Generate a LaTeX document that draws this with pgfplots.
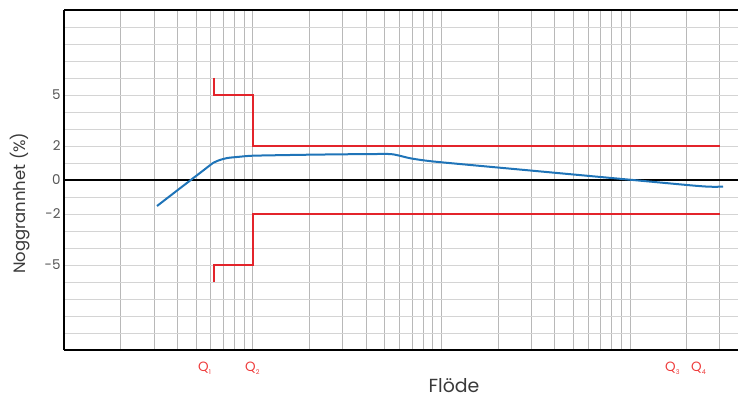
\documentclass[border=0pt]{standalone}
\usepackage{pgfplots}
\pgfplotsset{compat=1.18}
\usepackage{fontspec}
\setmainfont{Poppins}
\definecolor{redline}{HTML}{E3242B}
\definecolor{blueline}{HTML}{1F74B8}
\definecolor{labelgray}{HTML}{3A3A3A}
\definecolor{tickgray}{HTML}{555555}
\definecolor{qred}{HTML}{EE3B3B}
\begin{document}
\begin{tikzpicture}
\begin{axis}[
  scale only axis,
  width=673.9bp, height=340bp,
  xmode=log, log basis x=10,
  xmin=1, xmax=3743,
  ymin=-10, ymax=10,
  xtick={1,10,100,1000},
  xticklabels={},
  minor xtick={2,3,4,5,6,7,8,9,20,30,40,50,60,70,80,90,200,300,400,500,600,700,800,900,2000,3000},
  ytick={-10,-9,...,10},
  yticklabels={,,,,,-5,,,-2,,0,,2,,,5,,,,,},
  yticklabel style={font=\fontsize{13.5}{13.5}\selectfont, text=tickgray},
  tick style={draw=none},
  xmajorgrids=true, xminorgrids=true, ymajorgrids=true,
  major x grid style={color=black!28, line width=0.8bp},
  minor x grid style={color=black!28, line width=0.8bp},
  major y grid style={color=black!17, line width=0.9bp},
  axis x line*=box,
  axis y line*=left,
  axis line style={line width=1.8bp, black},
  clip=false,
]
\addplot[black, line width=1.1bp] coordinates {(1,0) (3743,0)};
\addplot[blueline, line width=2bp, smooth, tension=0.35] coordinates {
(3.109,-1.53) (3.644,-0.94) (4.596,-0.08) (5.586,0.64) (6.160,1.0)
(6.709,1.18) (7.396,1.30) (8.564,1.37) (10.04,1.43) (17.82,1.48)
(29.03,1.51) (52.18,1.53) (58.94,1.45) (69.09,1.27) (92.26,1.08)
(298.9,0.555) (897.3,0.065) (2033,-0.30) (2493,-0.38) (2800,-0.40) (3117,-0.39)
};
\addplot[redline, line width=2bp] coordinates {(6.26,6) (6.26,5) (10,5) (10,2) (3000,2)};
\addplot[redline, line width=2bp] coordinates {(6.26,-6) (6.26,-5) (10,-5) (10,-2) (3000,-2)};
\node[anchor=west, inner sep=0pt, text=qred, font=\fontsize{13.5}{13.5}\selectfont] at (axis cs:5.13,-11.06) {Q\raisebox{-0.35ex}{\fontsize{6.5}{6.5}\selectfont 1}};
\node[anchor=west, inner sep=0pt, text=qred, font=\fontsize{13.5}{13.5}\selectfont] at (axis cs:9.10,-11.06) {Q\raisebox{-0.35ex}{\fontsize{6.5}{6.5}\selectfont 2}};
\node[anchor=west, inner sep=0pt, text=qred, font=\fontsize{13.5}{13.5}\selectfont] at (axis cs:1535,-11.06) {Q\raisebox{-0.35ex}{\fontsize{6.5}{6.5}\selectfont 3}};
\node[anchor=west, inner sep=0pt, text=qred, font=\fontsize{13.5}{13.5}\selectfont] at (axis cs:2109,-11.06) {Q\raisebox{-0.35ex}{\fontsize{6.5}{6.5}\selectfont 4}};
\node[text=labelgray, font=\fontsize{19}{19}\selectfont] at (axis description cs:0.5786,-0.106) {Flöde};
\node[text=labelgray, rotate=90, font=\fontsize{16.5}{16.5}\selectfont] at (axis description cs:-0.0654,0.432) {Noggrannhet (\%)};
\end{axis}
\pgfresetboundingbox
\path[use as bounding box] ([shift={(-64.1bp,-49bp)}]current axis.south west) rectangle ([shift={(0bp,10bp)}]current axis.north east);
\end{tikzpicture}
\end{document}
